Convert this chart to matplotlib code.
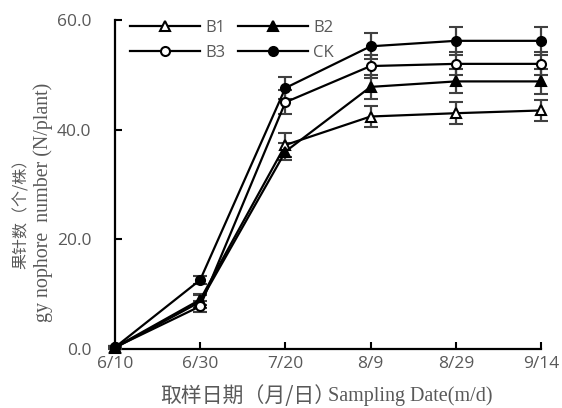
# %% Imports & data
import numpy as np
import matplotlib.pyplot as plt
from matplotlib.lines import Line2D

dates = ["6/10", "6/30", "7/20", "8/9", "8/29", "9/14"]

b1 = [0.3, 9.0, 37.2, 42.4, 43.0, 43.5]
b2 = [0.2, 8.6, 36.0, 47.8, 48.8, 48.8]
b3 = [0.3, 7.8, 45.0, 51.6, 52.0, 52.0]
ck = [0.3, 12.6, 47.6, 55.2, 56.2, 56.2]

b1_err = [0.2, 1.0, 2.2, 1.9, 2.0, 2.0]
b2_err = [0.2, 1.2, 1.6, 2.2, 2.2, 2.3]
b3_err = [0.2, 1.0, 2.2, 2.1, 2.1, 2.1]
ck_err = [0.2, 0.8, 2.0, 2.4, 2.5, 2.5]

GRAY = "#595959"

# %% Plot
fig = plt.figure(figsize=(5.62, 4.08), dpi=100)
ax = fig.add_axes([0.2046, 0.1446, 0.758, 0.8064])

x = np.arange(len(dates))
series = [
    ("B1", b1, b1_err, "^", "white"),
    ("B2", b2, b2_err, "^", "black"),
    ("B3", b3, b3_err, "o", "white"),
    ("CK", ck, ck_err, "o", "black"),
]
handles = {}
for name, vals, err, mk, fc in series:
    ms = 7 if mk == "^" else 6.5
    ax.errorbar(x, vals, yerr=err, color="black", lw=1.6, marker=mk,
                markersize=ms, markerfacecolor=fc,
                markeredgecolor="black", markeredgewidth=1.5,
                ecolor="#404040", elinewidth=1.6, capsize=5, capthick=1.6,
                clip_on=False, zorder=3)
    handles[name] = Line2D([], [], color="black", lw=1.6, marker=mk,
                           markersize=ms, markerfacecolor=fc,
                           markeredgecolor="black", markeredgewidth=1.5)

ax.set_xlim(0, len(dates) - 1)
ax.set_ylim(0, 60)
ax.set_xticks(x)
ax.set_xticklabels(dates)
ax.set_yticks([0, 20, 40, 60])
ax.set_yticklabels(["0.0", "20.0", "40.0", "60.0"])
ax.tick_params(direction="in", length=5, width=1.5, colors="black",
               labelcolor=GRAY, labelsize=12.5)
ax.tick_params(axis="y", pad=17)
ax.tick_params(axis="x", pad=5)
for lab in ax.get_xticklabels() + ax.get_yticklabels():
    lab.set_family("Open Sans")

for s in ["top", "right"]:
    ax.spines[s].set_visible(False)
for s in ["left", "bottom"]:
    ax.spines[s].set_linewidth(1.6)

# legend filled row-wise: B1 B2 / B3 CK
order = ["B1", "B3", "B2", "CK"]
leg = ax.legend(
    [handles[k] for k in order], order, ncol=2, loc="upper left",
    bbox_to_anchor=(0.0, 1.045), frameon=False, handlelength=4.2,
    columnspacing=0.8, handletextpad=0.3, labelspacing=0.5,
    prop={"family": "Open Sans", "size": 12})
for t in leg.get_texts():
    t.set_color(GRAY)

# y label, two lines
fig.text(0.039, 0.485, "果针数（个/株）", rotation=90, ha="center", va="center",
         color=GRAY, fontsize=11.5, family=["Noto Sans CJK SC", "DejaVu Sans"])
fig.text(0.076, 0.505, "gy nophore  number (N/plant)", rotation=90, ha="center",
         va="center", color=GRAY, fontsize=14.4, family="Liberation Serif")

# x label
fig.text(0.596, 0.03, "取样日期（月/日）", ha="right", va="center",
         color=GRAY, fontsize=15, family=["Noto Sans CJK SC", "DejaVu Sans"])
fig.text(0.584, 0.03, "Sampling Date(m/d)", ha="left", va="center",
         color=GRAY, fontsize=14.5, family="Liberation Serif")

fig.savefig("out.png", dpi=100)
